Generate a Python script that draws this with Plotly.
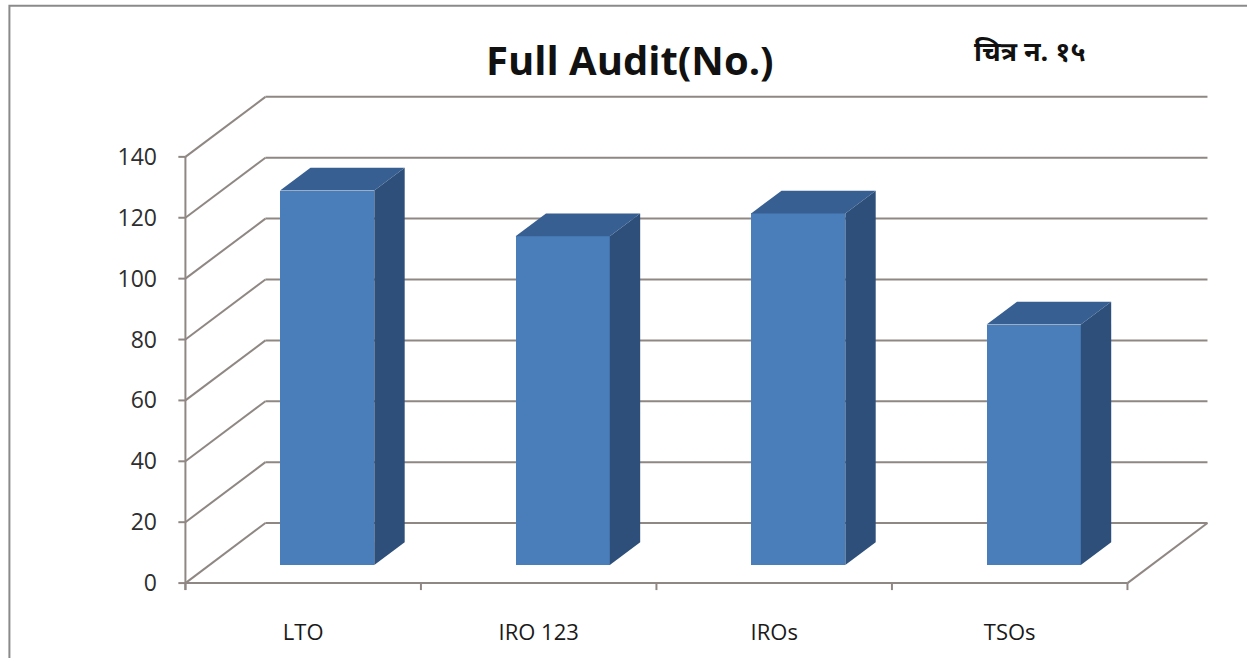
import plotly.graph_objects as go

# ---- data ----
categories = ["LTO", "IRO 123", "IROs", "TSOs"]
values = [123, 108, 115.5, 79]
y_ticks = [0, 20, 40, 60, 80, 100, 120, 140]
title_text = "Full Audit(No.)"
fig_label = "चित्र न. १५"

# ---- geometry (3D oblique projection in data units) ----
W, H = 1247, 658
KX = 235.5            # px per category unit
KY = 426 / 140        # px per value unit
DX = 80 / KX          # full depth, x component (category units)
DY = 60 / KY          # full depth, y component (value units)
Z0, Z1 = 0.30, 0.68   # bar depth span (fraction of full depth)
BW = 0.4              # bar width (category units)
n = len(categories)
ymax = max(y_ticks)

x_min, x_max = -0.04, n + DX + 0.015
y_min, y_max = -2.6, ymax + DY + 0.6
X0PX, Y0PX = 185, 583  # pixel position of data origin
ml = X0PX + x_min * KX
mr = W - (X0PX + x_max * KX)
mb = H - (Y0PX - y_min * KY)
mt = Y0PX - y_max * KY

GRID = "#8f8783"
FRONT = "#4a7ebb"
SIDE = "#2d4f79"
TOP = "#375f91"

fig = go.Figure()

# front faces of bars
fig.add_trace(go.Bar(
    x=[i + 0.5 + Z0 * DX for i in range(n)],
    y=values,
    base=Z0 * DY,
    width=BW,
    marker=dict(color=FRONT, line=dict(width=0)),
    hoverinfo="skip",
    showlegend=False,
))

# side and top faces
for i, v in enumerate(values):
    c = i + 0.5
    xl, xr = c - BW / 2, c + BW / 2
    side_x = [xr + Z0 * DX, xr + Z1 * DX, xr + Z1 * DX, xr + Z0 * DX, xr + Z0 * DX]
    side_y = [Z0 * DY, Z1 * DY, v + Z1 * DY, v + Z0 * DY, Z0 * DY]
    fig.add_trace(go.Scatter(x=side_x, y=side_y, mode="lines", fill="toself",
                             fillcolor=SIDE, line=dict(width=0, color=SIDE),
                             hoverinfo="skip", showlegend=False))
    top_x = [xl + Z0 * DX, xr + Z0 * DX, xr + Z1 * DX, xl + Z1 * DX, xl + Z0 * DX]
    top_y = [v + Z0 * DY, v + Z0 * DY, v + Z1 * DY, v + Z1 * DY, v + Z0 * DY]
    fig.add_trace(go.Scatter(x=top_x, y=top_y, mode="lines", fill="toself",
                             fillcolor=TOP, line=dict(width=0, color=TOP),
                             hoverinfo="skip", showlegend=False))

# walls, floor, axes (shapes below traces, in data coordinates)
shapes = []
def seg(x0, y0, x1, y1):
    shapes.append(dict(type="line", xref="x", yref="y", x0=x0, y0=y0, x1=x1, y1=y1,
                       line=dict(color=GRID, width=2), layer="below"))

for v in y_ticks:
    seg(0, v, DX, v + DY)
    seg(DX, v + DY, n + DX, v + DY)
    seg(0, v, -0.03, v)                 # y tick mark
seg(0, y_min + 0.3, 0, ymax)            # y axis line
seg(0, 0, n, 0)                         # front floor edge
seg(n, 0, n + DX, DY)                   # right floor edge
for i in range(n + 1):
    seg(i, 0, i, -2.3)                  # x tick marks

# outer chart frame
def px_to_paper_x(px):
    return (px - ml) / (W - ml - mr)
def px_to_paper_y(py):
    return (H - mb - py) / (H - mt - mb)
shapes.append(dict(type="rect", xref="paper", yref="paper",
                   x0=px_to_paper_x(9), y0=px_to_paper_y(6),
                   x1=px_to_paper_x(1260), y1=px_to_paper_y(670),
                   line=dict(color="#8a8a8a", width=2), layer="below"))

fig.update_layout(
    width=W, height=H, autosize=False,
    margin=dict(l=ml, r=mr, t=mt, b=mb, pad=0),
    paper_bgcolor="white", plot_bgcolor="white",
    shapes=shapes,
    bargap=0,
    xaxis=dict(range=[x_min, x_max], tickvals=[i + 0.5 for i in range(n)],
               ticktext=categories, ticks="", showgrid=False, zeroline=False,
               showline=False, ticklabelstandoff=26,
               tickfont=dict(family="Open Sans", size=22, color="#1a1a1a")),
    yaxis=dict(range=[y_min, y_max], tickvals=y_ticks, ticks="", showgrid=False,
               zeroline=False, showline=False, ticklabelstandoff=18,
               tickfont=dict(family="Open Sans", size=23, color="#2e2e2e")),
    annotations=[
        dict(text="<b>" + title_text + "</b>", xref="paper", yref="paper",
             x=px_to_paper_x(630), y=px_to_paper_y(60), xanchor="center", yanchor="middle",
             showarrow=False, font=dict(family="Open Sans", size=40, color="#111111")),
        dict(text="<b>" + fig_label + "</b>", xref="paper", yref="paper",
             x=px_to_paper_x(1030), y=px_to_paper_y(55), xanchor="center", yanchor="middle",
             showarrow=False,
             font=dict(family="Noto Sans Devanagari, Noto Sans, sans-serif", size=27, color="#111111")),
    ],
)

fig.write_html("out.html", config={"displayModeBar": False},
               post_script="document.body.style.margin='0';document.body.style.overflow='hidden';")
